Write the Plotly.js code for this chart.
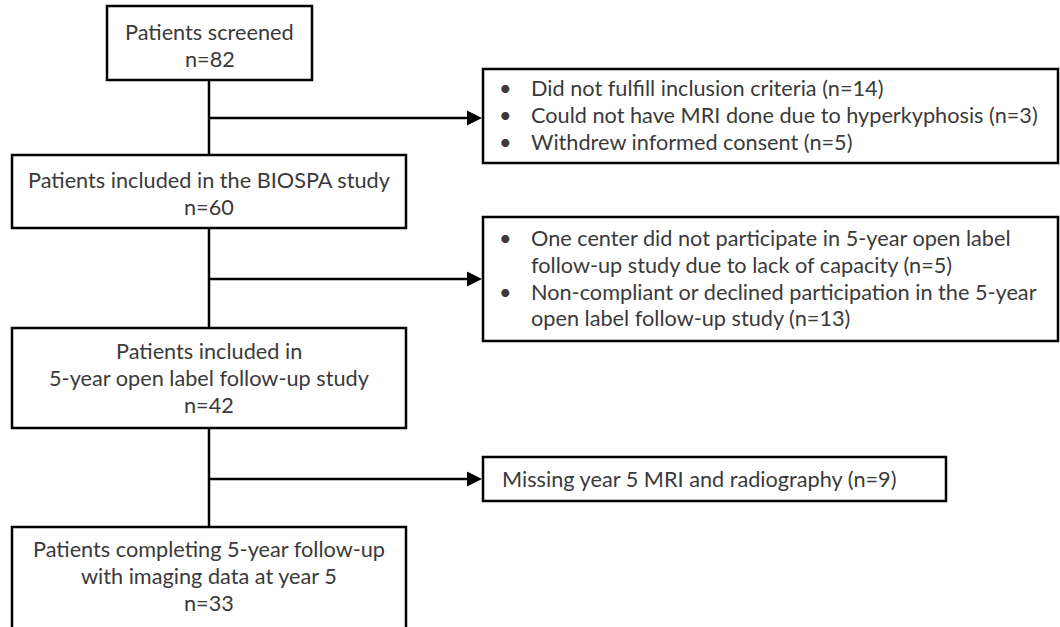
<!DOCTYPE html>
<html>
<head>
<meta charset="utf-8">
<script src="https://cdn.plot.ly/plotly-3.0.1.min.js"></script>
<style>html,body{margin:0;padding:0;background:#fff;}#chart{width:1060px;height:627px;}</style>
</head>
<body>
<div id="chart"></div>
<script>
// ---- data ----
const stageLabels = [
  ["Patients screened"],
  ["Patients included in the BIOSPA study"],
  ["Patients included in", "5-year open label follow-up study"],
  ["Patients completing 5-year follow-up", "with imaging data at year 5"]
];
const stageCounts = [82, 60, 42, 33];

const exclusionReasons1 = [
  ["Did not fulfill inclusion criteria"],
  ["Could not have MRI done due to hyperkyphosis"],
  ["Withdrew informed consent"]
];
const exclusionCounts1 = [14, 3, 5];

const exclusionReasons2 = [
  ["One center did not participate in 5-year open label", "follow-up study due to lack of capacity"],
  ["Non-compliant or declined participation in the 5-year", "open label follow-up study"]
];
const exclusionCounts2 = [5, 13];

const exclusionReasons3 = [["Missing year 5 MRI and radiography"]];
const exclusionCounts3 = [9];

// ---- layout geometry (pixels, y downward) ----
const FONT = {family: "Lato, 'Open Sans', sans-serif", size: 21.7, color: "#3a3a3a"};
const LINE_H = 26.8;
const spineX = 209;
const mainBoxes = [
  {x0: 107, x1: 312, y0: 6,   y1: 80,  firstY: 32},
  {x0: 12,  x1: 406, y0: 155, y1: 228, firstY: 180},
  {x0: 12,  x1: 406, y0: 328, y1: 428, firstY: 351},
  {x0: 12,  x1: 406, y0: 527, y1: 660, firstY: 549}
];
const sideBoxes = [
  {x0: 483, x1: 1058, y0: 69,  y1: 163, arrowY: 118, firstY: 88},
  {x0: 483, x1: 1058, y0: 217, y1: 341, arrowY: 279, firstY: 238},
  {x0: 483, x1: 946,  y0: 457, y1: 501, arrowY: 479, firstY: 479}
];
const bulletX = 505, bulletTextX = 529, plainTextX = 500;

const shapes = [];
const annotations = [];
const lineStyle = {color: "#000", width: 2.5};

function addText(x, y, text, anchor) {
  annotations.push({x: x, y: y, xref: "x", yref: "y", text: text, showarrow: false,
    xanchor: anchor, yanchor: "middle", align: anchor === "center" ? "center" : "left",
    font: FONT});
}

mainBoxes.forEach((b, i) => {
  shapes.push({type: "rect", xref: "x", yref: "y", x0: b.x0, x1: b.x1, y0: b.y0, y1: b.y1,
    line: lineStyle, fillcolor: "rgba(0,0,0,0)"});
  const lines = stageLabels[i].concat(["n=" + stageCounts[i]]);
  lines.forEach((t, k) => addText((b.x0 + b.x1) / 2, b.firstY + k * LINE_H, t, "center"));
  if (i < mainBoxes.length - 1) {
    shapes.push({type: "line", xref: "x", yref: "y", x0: spineX, x1: spineX,
      y0: b.y1, y1: mainBoxes[i + 1].y0, line: lineStyle});
  }
});

const sideData = [
  {reasons: exclusionReasons1, counts: exclusionCounts1, bullets: true},
  {reasons: exclusionReasons2, counts: exclusionCounts2, bullets: true},
  {reasons: exclusionReasons3, counts: exclusionCounts3, bullets: false}
];

sideBoxes.forEach((b, i) => {
  shapes.push({type: "rect", xref: "x", yref: "y", x0: b.x0, x1: b.x1, y0: b.y0, y1: b.y1,
    line: lineStyle, fillcolor: "rgba(0,0,0,0)"});
  shapes.push({type: "line", xref: "x", yref: "y", x0: spineX, x1: b.x0 - 8,
    y0: b.arrowY, y1: b.arrowY, line: lineStyle});
  annotations.push({x: b.x0 - 1, y: b.arrowY, ax: b.x0 - 12, ay: b.arrowY,
    xref: "x", yref: "y", axref: "x", ayref: "y", text: "", showarrow: true,
    arrowhead: 2, arrowsize: 1.2, arrowwidth: 2.5, arrowcolor: "#000", standoff: 0});
  const d = sideData[i];
  let row = 0;
  d.reasons.forEach((r, k) => {
    const lines = r.slice();
    lines[lines.length - 1] += " (n=" + d.counts[k] + ")";
    if (d.bullets) addText(bulletX, b.firstY + row * LINE_H, "•", "center");
    lines.forEach((t) => {
      addText(d.bullets ? bulletTextX : plainTextX, b.firstY + row * LINE_H, t, "left");
      row++;
    });
  });
});

const layout = {
  width: 1060, height: 627,
  margin: {l: 0, r: 0, t: 0, b: 0},
  paper_bgcolor: "#fff", plot_bgcolor: "#fff",
  xaxis: {range: [0, 1060], visible: false, fixedrange: true},
  yaxis: {range: [627, 0], visible: false, fixedrange: true},
  showlegend: false,
  shapes: shapes,
  annotations: annotations
};

Plotly.newPlot("chart", [], layout, {displayModeBar: false, staticPlot: true});
</script>
</body>
</html>
